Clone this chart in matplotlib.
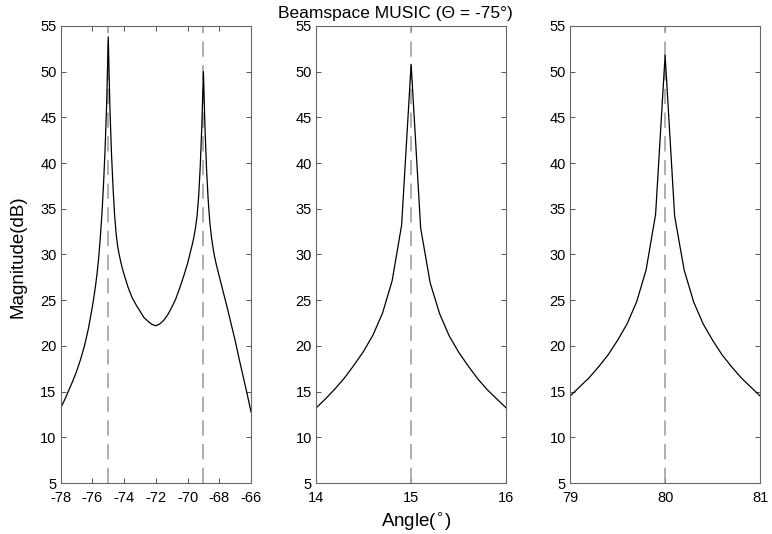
import matplotlib
matplotlib.use("Agg")
import matplotlib.pyplot as plt

plt.rcParams["font.family"] = ["Liberation Sans", "DejaVu Sans"]
plt.rcParams["axes.unicode_minus"] = False

# left panel: two sources at -75 and -69 deg
angle_a = [-78.0, -77.75, -77.5, -77.25, -77.0, -76.75, -76.5, -76.25, -76.0,
           -75.9, -75.8, -75.7, -75.6, -75.5, -75.4, -75.3, -75.2, -75.1, -75.0,
           -74.9, -74.8, -74.7, -74.6, -74.5, -74.4, -74.3, -74.2, -74.1, -74.0,
           -73.75, -73.5, -73.25, -73.0, -72.75, -72.5, -72.25, -72.0,
           -71.75, -71.5, -71.25, -71.0, -70.75, -70.5, -70.25, -70.0,
           -69.9, -69.8, -69.7, -69.6, -69.5, -69.4, -69.3, -69.2, -69.1, -69.0,
           -68.9, -68.8, -68.7, -68.6, -68.5, -68.4, -68.3, -68.2, -68.1, -68.0,
           -67.75, -67.5, -67.25, -67.0, -66.75, -66.5, -66.25, -66.0]
mag_a = [13.2, 14.1, 15.1, 16.1, 17.2, 18.5, 20.0, 21.9, 24.3,
         25.4, 26.6, 28.0, 29.7, 31.9, 34.4, 37.6, 41.5, 46.5, 53.8,
         46.3, 41.2, 37.4, 34.3, 32.2, 30.8, 29.9, 29.1, 28.4, 27.8,
         26.4, 25.3, 24.5, 23.8, 23.1, 22.7, 22.35, 22.2,
         22.4, 22.8, 23.4, 24.2, 25.1, 26.3, 27.6, 29.0,
         29.7, 30.4, 31.1, 31.9, 32.9, 34.2, 36.3, 39.6, 44.0, 50.0,
         43.8, 39.3, 36.0, 33.6, 32.0, 30.8, 29.8, 29.0, 28.3, 27.6,
         25.9, 24.2, 22.4, 20.6, 18.6, 16.7, 14.8, 12.8]

# middle panel: source at 15 deg
angle_b = [14.0, 14.1, 14.2, 14.3, 14.4, 14.5, 14.6, 14.7, 14.8, 14.9, 15.0,
           15.1, 15.2, 15.3, 15.4, 15.5, 15.6, 15.7, 15.8, 15.9, 16.0]
mag_b = [13.2, 14.2, 15.3, 16.5, 17.9, 19.4, 21.2, 23.6, 27.1, 33.2, 50.8,
         32.9, 26.9, 23.5, 21.1, 19.3, 17.8, 16.4, 15.2, 14.2, 13.2]

# right panel: source at 80 deg
angle_c = [79.0, 79.1, 79.2, 79.3, 79.4, 79.5, 79.6, 79.7, 79.8, 79.9, 80.0,
           80.1, 80.2, 80.3, 80.4, 80.5, 80.6, 80.7, 80.8, 80.9, 81.0]
mag_c = [14.5, 15.5, 16.5, 17.7, 19.0, 20.6, 22.4, 24.8, 28.3, 34.4, 51.8,
         34.2, 28.3, 24.8, 22.4, 20.6, 19.0, 17.7, 16.5, 15.5, 14.5]

true_a = [-75, -69]
true_b = [15]
true_c = [80]

xticks_a = [-78, -76, -74, -72, -70, -68, -66]
xticks_b = [14, 15, 16]
xticks_c = [79, 80, 81]
yticks = [5, 10, 15, 20, 25, 30, 35, 40, 45, 50, 55]

fig = plt.figure(figsize=(7.72, 5.34), dpi=100)
lefts = [0.0786, 0.4093, 0.7383]
panels = [(angle_a, mag_a, true_a, xticks_a),
          (angle_b, mag_b, true_b, xticks_b),
          (angle_c, mag_c, true_c, xticks_c)]

for left, (x, y, doa, xt) in zip(lefts, panels):
    ax = fig.add_axes([left, 0.0955, 0.2465, 0.856])
    for d in doa:
        ax.axvline(d, color="#999999", lw=1.1, linestyle=(0, (10, 5.5)))
    ax.plot(x, y, color="black", lw=0.9)
    ax.set_xlim(xt[0], xt[-1])
    ax.set_ylim(5, 55)
    ax.set_xticks(xt)
    ax.set_yticks(yticks)
    ax.tick_params(direction="in", length=3.5, width=0.7, color="#555555",
                   top=True, right=True, labelsize=10.5, pad=3)
    ax.tick_params(axis="x", pad=6)
    for s in ax.spines.values():
        s.set_color("#666666")
        s.set_linewidth(0.8)

fig.text(0.512, 0.967, "Beamspace MUSIC (\u0398 = -75\u00b0)", ha="center",
         va="baseline", fontsize=12.5)
fig.text(0.539, 0.0243, "Angle($^{\\circ}$)", ha="center", va="center",
         fontsize=13.5)
fig.text(0.0233, 0.52, "Magnitude(dB)", ha="center", va="center",
         rotation=90, fontsize=13.5)

fig.savefig("out.png", dpi=100)
